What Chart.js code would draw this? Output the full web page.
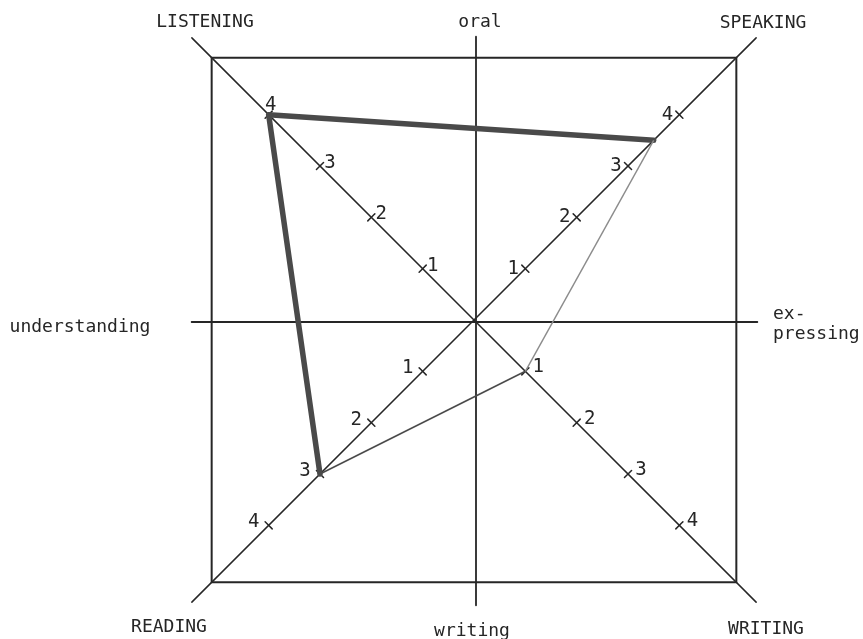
<!DOCTYPE html>
<html>
<head>
<meta charset="utf-8">
<script src="https://cdn.jsdelivr.net/npm/chart.js@4.4.1/dist/chart.umd.min.js"></script>
<style>
  html, body { margin: 0; padding: 0; background: #fff; overflow: hidden; width: 863px; height: 639px; }
  /* canvas is taller than the window so the radar's drawing area can reach the square's corners */
  #wrap { position: absolute; left: 0; top: -51px; width: 863px; height: 742px; }
</style>
</head>
<body>
<div id="wrap"><canvas id="skills"></canvas></div>
<script>
// Skill profile: four skills on the diagonals, scored 1-4
const skills = ["LISTENING", "SPEAKING", "WRITING", "READING"];
const scores = [4, 3.5, 1, 3];
const tickValues = [1, 2, 3, 4];
const scaleMax = 5.11;
// labels of the two cross axes (top, right, bottom, left)
const crossLabels = ["oral", ["ex-", "pressing"], "writing", "understanding"];

// heavy strokes touch LISTENING, thin ones run through WRITING
const keep = (idx) => scores.map((v, i) => (idx.includes(i) ? v : null));
const heavy = keep([0, 1, 3]);      // speaking - listening - reading (closes over the loop)
const speakWrite = keep([1, 2]);
const writeRead = keep([2, 3]);

const FONT = "18px 'DejaVu Sans Mono', 'Liberation Mono', monospace";
const NUM_FONT = "19px 'DejaVu Sans Mono', 'Liberation Mono', monospace";
const INK = "#262626";

// where each number sits relative to its tick (per skill axis)
const numOffset = [
  { dx: 10, dy: -3 },
  { dx: -12, dy: 0 },
  { dx: 13, dy: -4 },
  { dx: -15, dy: -3 }
];

const frame = {
  id: "frame",
  beforeDatasetsDraw(chart) {
    const s = chart.scales.r, ctx = chart.ctx;
    const cx = s.xCenter, cy = s.yCenter, half = s.drawingArea / Math.SQRT2;
    ctx.save();
    ctx.strokeStyle = INK;
    ctx.lineCap = "round";

    // diagonals, running a little past the corners
    ctx.lineWidth = 1.5;
    skills.forEach((_, i) => {
      const p = s.getPointPosition(i, s.drawingArea + 28);
      ctx.beginPath();
      ctx.moveTo(cx, cy);
      ctx.lineTo(p.x, p.y);
      ctx.stroke();
    });

    // oral/writing and understanding/expressing
    ctx.lineWidth = 1.8;
    ctx.beginPath();
    ctx.moveTo(cx + 2, cy - half - 21);
    ctx.lineTo(cx + 2, cy + half + 23);
    ctx.moveTo(cx - half - 20, cy + 2);
    ctx.lineTo(cx + half + 21, cy + 2);
    ctx.stroke();

    // little crosses at 1..4 on every diagonal
    ctx.lineWidth = 1.5;
    skills.forEach((_, i) => {
      const a = s.getIndexAngle(i) - Math.PI / 2;
      const px = -Math.sin(a), py = Math.cos(a);
      tickValues.forEach(v => {
        const p = s.getPointPositionForValue(i, v);
        ctx.beginPath();
        ctx.moveTo(p.x - px * 5, p.y - py * 5);
        ctx.lineTo(p.x + px * 5, p.y + py * 5);
        ctx.stroke();
      });
    });
    ctx.restore();
  },
  afterDraw(chart) {
    const s = chart.scales.r, ctx = chart.ctx;
    const cx = s.xCenter, cy = s.yCenter;
    ctx.save();
    ctx.fillStyle = INK;
    ctx.textAlign = "center";
    ctx.textBaseline = "middle";

    ctx.font = NUM_FONT;
    skills.forEach((_, i) => {
      tickValues.forEach(v => {
        const p = s.getPointPositionForValue(i, v);
        let o = numOffset[i];
        if (i === 0 && v === 4) o = { dx: 2, dy: -10 }; // sits above the vertex
        ctx.fillText(String(v), p.x + o.dx, p.y + o.dy);
      });
    });

    // corner labels
    ctx.font = FONT;
    const corner = [[-269, -298], [289, -297], [292, 309], [-305, 307]];
    skills.forEach((name, i) => ctx.fillText(name, cx + corner[i][0], cy + corner[i][1]));

    // cross-axis labels
    ctx.fillText(crossLabels[0], cx + 6, cy - 298);
    ctx.fillText(crossLabels[2], cx - 2, cy + 311);
    ctx.fillText(crossLabels[3], cx - 394, cy + 7);
    ctx.textAlign = "left";
    ctx.fillText(crossLabels[1][0], cx + 299, cy - 6);
    ctx.fillText(crossLabels[1][1], cx + 299, cy + 14);
    ctx.restore();
  }
};

new Chart(document.getElementById("skills"), {
  type: "radar",
  data: {
    labels: skills,
    datasets: [
      { data: speakWrite, fill: false, pointRadius: 0, borderColor: "#8c8c8c", borderWidth: 1.4 },
      { data: writeRead, fill: false, pointRadius: 0, borderColor: "#4a4a4a", borderWidth: 1.6 },
      {
        data: heavy,
        fill: false,
        pointRadius: 0,
        borderColor: "#4a4a4a",
        borderWidth: 5.5,
        borderJoinStyle: "round",
        borderCapStyle: "round"
      }
    ]
  },
  options: {
    responsive: true,
    maintainAspectRatio: false,
    animation: false,
    spanGaps: false,
    layout: { padding: { left: 103, right: 18, top: 0, bottom: 0 } },
    plugins: { legend: { display: false }, tooltip: { enabled: false } },
    scales: {
      r: {
        min: 0,
        max: scaleMax,
        startAngle: -45,
        ticks: { display: false, stepSize: 1 },
        pointLabels: { display: false },
        angleLines: { display: false },
        grid: {
          circular: false,
          lineWidth: 2,
          color: c => (c.tick && c.tick.value >= scaleMax - 1e-6) ? INK : "rgba(0,0,0,0)"
        }
      }
    }
  },
  plugins: [frame]
});
</script>
</body>
</html>
